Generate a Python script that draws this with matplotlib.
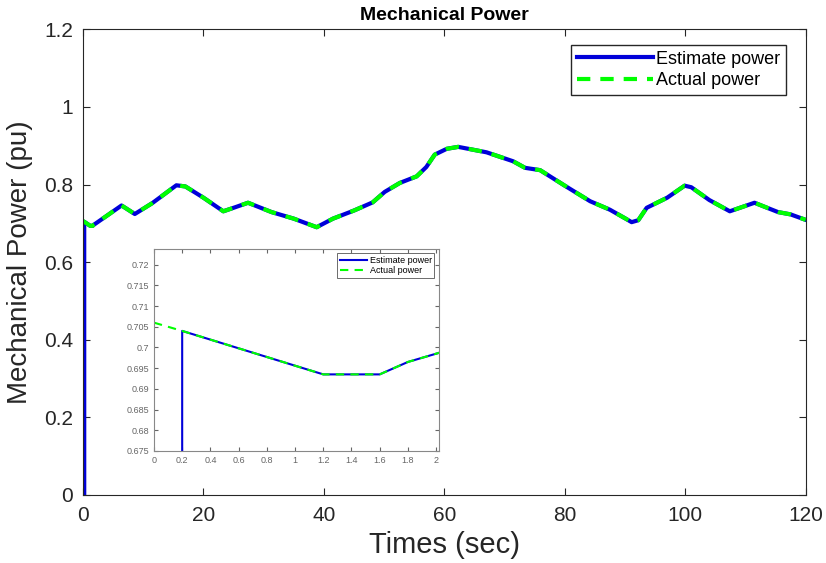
import numpy as np
import matplotlib.pyplot as plt

plt.rcParams['font.family'] = ['Liberation Sans', 'DejaVu Sans']

# Main curve: time in sec, power in pu
t_actual = [0, 0.2, 1.2, 1.6, 1.8, 2.05, 4.0, 6.4, 8.6, 11.5, 15.5, 17.0, 20.0,
            23.3, 25.0, 27.4, 31.3, 35.0, 38.8, 41.5, 45.0, 48.1, 50.1, 52.6,
            55.4, 57.0, 58.4, 60.4, 62.3, 67.0, 71.4, 73.4, 75.9, 80.0, 84.2,
            87.5, 90.0, 91.1, 92.2, 93.6, 97.0, 99.9, 101.0, 104.0, 107.4,
            111.5, 115.4, 117.5, 119.8, 120.0]
p_actual = [0.706, 0.704, 0.6935, 0.6935, 0.6965, 0.699, 0.720, 0.746, 0.724,
            0.752, 0.798, 0.795, 0.766, 0.731, 0.740, 0.753, 0.729, 0.712, 0.690,
            0.712, 0.733, 0.754, 0.781, 0.804, 0.821, 0.845, 0.877, 0.892, 0.897,
            0.883, 0.860, 0.843, 0.837, 0.797, 0.757, 0.735, 0.713, 0.703, 0.708,
            0.740, 0.766, 0.797, 0.793, 0.760, 0.731, 0.753, 0.729, 0.723, 0.710,
            0.709]

# Estimate starts at zero, then follows the actual power from 0.2 s
t_est = [0, 0.2] + t_actual[1:]
p_est = [0, 0] + p_actual[1:]

fig = plt.figure(figsize=(8.26, 5.63), dpi=100)
ax = fig.add_axes([0.1005, 0.1208, 0.8749, 0.8272])

ax.plot(t_est, p_est, color=(0, 0, 0.85), lw=3.0, label='Estimate power')
ax.plot(t_actual, p_actual, color=(0, 1, 0), lw=3.0, ls=(0, (3.2, 2.4)),
        label='Actual power')

ax.set_xlim(0, 120)
ax.set_ylim(0, 1.2)
ax.set_xticks([0, 20, 40, 60, 80, 100, 120])
ax.set_yticks([0, 0.2, 0.4, 0.6, 0.8, 1.0, 1.2])
ax.set_yticklabels(['0', '0.2', '0.4', '0.6', '0.8', '1', '1.2'])
ax.tick_params(direction='in', top=True, right=True, labelsize=15,
               colors='#262626', length=5)
ax.tick_params(axis='x', pad=8)
ax.tick_params(axis='y', pad=7)
for s in ax.spines.values():
    s.set_color('#262626')
ax.set_xlabel('Times (sec)', fontsize=21, color='#262626', labelpad=4)
ax.set_ylabel('Mechanical Power (pu)', fontsize=20, color='#262626', labelpad=8)
ax.set_title('Mechanical Power', fontsize=14, fontweight='bold', pad=7)
leg = ax.legend(loc='upper right', fontsize=13, fancybox=False, framealpha=1,
                edgecolor='#262626', handlelength=4.2, borderpad=0.3,
                labelspacing=0.25, handletextpad=0.2, bbox_to_anchor=(0.985, 0.985))
leg.get_frame().set_linewidth(1.0)

# Inset zoom on the first two seconds
ins = fig.add_axes([0.1864, 0.1990, 0.3450, 0.3588])
ins.plot(t_est, p_est, color=(0, 0, 0.85), lw=1.5, label='Estimate power')
ins.plot(t_actual, p_actual, color=(0, 1, 0), lw=1.5, ls=(0, (4, 3)),
         label='Actual power')
ins.set_xlim(0, 2.02)
ins.set_ylim(0.675, 0.7238)
ins.set_xticks(np.arange(0, 2.01, 0.2))
ins.set_xticklabels(['0', '0.2', '0.4', '0.6', '0.8', '1', '1.2', '1.4', '1.6', '1.8', '2'])
ins.set_yticks(np.arange(0.675, 0.7201, 0.005))
ins.set_yticklabels(['0.675', '0.68', '0.685', '0.69', '0.695', '0.7',
                     '0.705', '0.71', '0.715', '0.72'])
ins.tick_params(direction='in', top=True, right=True, labelsize=6.5,
                colors='#666666', length=3)
for s in ins.spines.values():
    s.set_color('#888888')
ileg = ins.legend(loc='upper right', fontsize=6.5, fancybox=False, framealpha=1,
                  edgecolor='#555555', handlelength=3, borderpad=0.3,
                  labelspacing=0.1, handletextpad=0.3)
ileg.get_frame().set_linewidth(0.6)

fig.savefig('out.png', dpi=100)
